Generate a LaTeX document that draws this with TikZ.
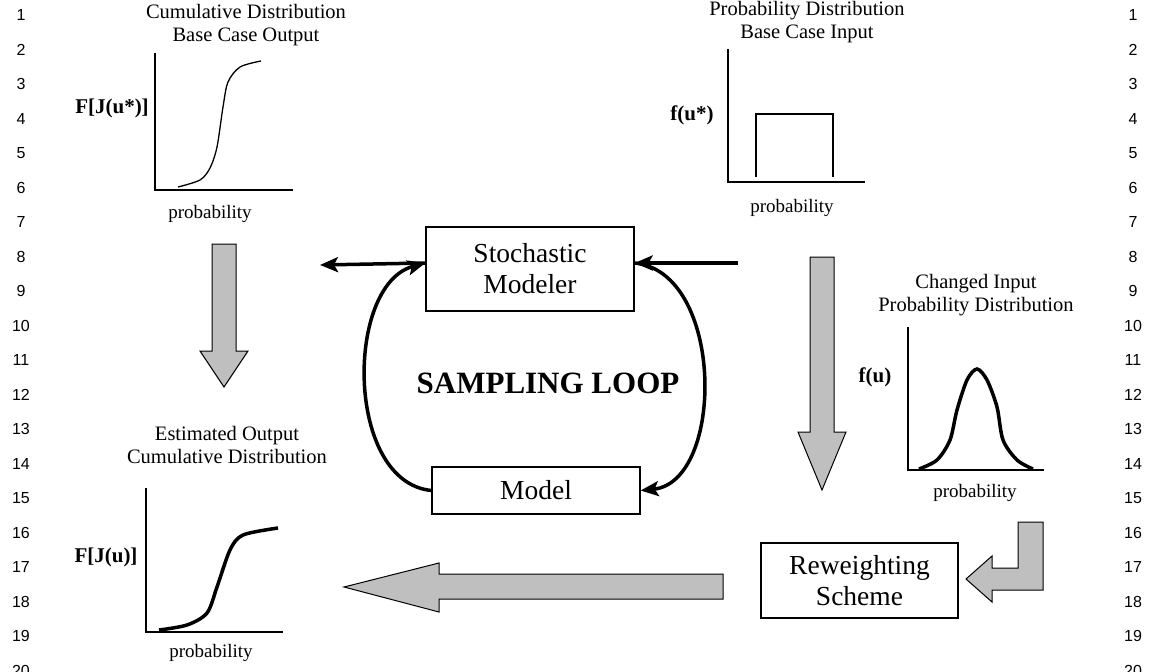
\documentclass[tikz,border=0pt]{standalone}
\usepackage{fontspec}
\setmainfont{Liberation Serif}
\newfontfamily\numfont{Liberation Sans}
\usetikzlibrary{arrows.meta}

\begin{document}
\begin{tikzpicture}[
  x=1pt, y=-1pt,
  ttl/.style={align=center, inner sep=0pt, font=\fontsize{20.5}{23}\selectfont},
  ylbl/.style={inner sep=0pt, font=\fontsize{21}{24}\selectfont\bfseries},
  xlbl/.style={inner sep=0pt, font=\fontsize{19}{22}\selectfont},
  box/.style={draw, line width=1.2pt, align=center, inner sep=0pt,
    font=\fontsize{27.5}{31}\selectfont},
  lnum/.style={inner sep=0pt, font=\numfont\fontsize{16}{18}\selectfont},
  axis/.style={line width=1.4pt},
  blk/.style={draw=black, line width=1pt, fill=black!25, line join=miter},
  loop/.style={-{Stealth[length=18pt,width=15pt,inset=4pt]}, line width=3.5pt}
]
\useasboundingbox (0,0) rectangle (1152,672);

% ---- line numbers ----
\foreach \n in {1,...,20} {
  \node[lnum] (nl\n) at (21,{15+34.5*(\n-1)}) {\n};
  \node[lnum] (nr\n) at (1133,{15+34.5*(\n-1)}) {\n};
}

% ================= base case output (top left) =================
\node[ttl]  (cdfT) at (246,25)  {Cumulative Distribution\\Base Case Output};
\node[ylbl] (cdfY) at (112,108) {F[J(u*)]};
\node[xlbl] (cdfX) at (210,214) {probability};
\draw[axis] (155,53) -- (155,190) -- (293,190);
\draw[line width=1.3pt] plot[smooth] coordinates
  {(178,187) (200,180) (210,168) (217,147) (223,107) (228,82) (240,67) (261,61)};

% ================= base case input (top right) =================
\node[ttl]  (pdfT) at (807,22)  {Probability Distribution\\Base Case Input};
\node[ylbl] (pdfY) at (692,115) {f(u*)};
\node[xlbl] (pdfX) at (792,208) {probability};
\draw[axis] (728,49) -- (728,182) -- (865,182);
\draw[line width=1.3pt] (756,177) -- (756,114) -- (833,114) -- (833,177);

% ================= changed input (right) =================
\node[ttl]  (chgT) at (976,295) {Changed Input\\Probability Distribution};
\node[ylbl] (chgY) at (875,377) {f(u)};
\node[xlbl] (chgX) at (975,493) {probability};
\draw[axis] (908,327) -- (908,470) -- (1044,470);
\draw[line width=3.5pt] plot[smooth] coordinates
  {(919,469) (937,460) (950,440) (957,410) (967,380) (977,369)
   (987,380) (997,407) (1003,440) (1017,460) (1033,469)};

% ================= estimated output (bottom left) =================
\node[ttl]  (estT) at (227,445) {Estimated Output\\Cumulative Distribution};
\node[ylbl] (estY) at (106,557) {F[J(u)]};
\node[xlbl] (estX) at (211,653) {probability};
\draw[axis] (146,488) -- (146,632) -- (283,632);
\draw[line width=3.5pt] plot[smooth] coordinates
  {(159,630) (187,625) (207,613) (217,587) (230,550) (243,535) (278,528)};

% ================= sampling loop =================
\node[box, minimum width=208pt, minimum height=84pt] (stoch) at (530,269)
  {Stochastic\\Modeler};
\node[box, minimum width=208pt, minimum height=47pt] (model) at (536,490.5)
  {Model};
\node[inner sep=0pt, font=\fontsize{31}{34}\selectfont\bfseries] (loopT) at (548,383)
  {SAMPLING LOOP};
\node[box, minimum width=197pt, minimum height=75pt] (rew) at (859.5,580.5)
  {Reweighting\\Scheme};

\coordinate (inR)  at (738,263);
\coordinate (outL) at (320,265);
\draw[loop] (inR) -- ([yshift=6pt]stoch.east);
\draw[loop] ([yshift=6pt]stoch.west) -- (outL);
\draw[loop] (model.west) .. controls (345,482) and (345,285) .. ([yshift=6pt]stoch.west);
\draw[loop] ([yshift=6pt]stoch.east) .. controls (725,272) and (725,482) .. (model.east);

% ================= block arrows =================
\draw[blk] (212,244) -- (236,244) -- (236,351) -- (248,351) -- (224,387)
  -- (200,351) -- (212,351) -- cycle;
\draw[blk] (810,257) -- (834,257) -- (834,432) -- (846,432) -- (822,490)
  -- (798,432) -- (810,432) -- cycle;
\draw[blk] (723,574) -- (723,599) -- (439,599) -- (439,612) -- (344,587)
  -- (439,563) -- (439,574) -- cycle;
\draw[blk] (1018,522) -- (1043,522) -- (1043,590) -- (992,590) -- (992,602)
  -- (966,579) -- (992,556) -- (992,568) -- (1018,568) -- cycle;

\end{tikzpicture}
\end{document}
